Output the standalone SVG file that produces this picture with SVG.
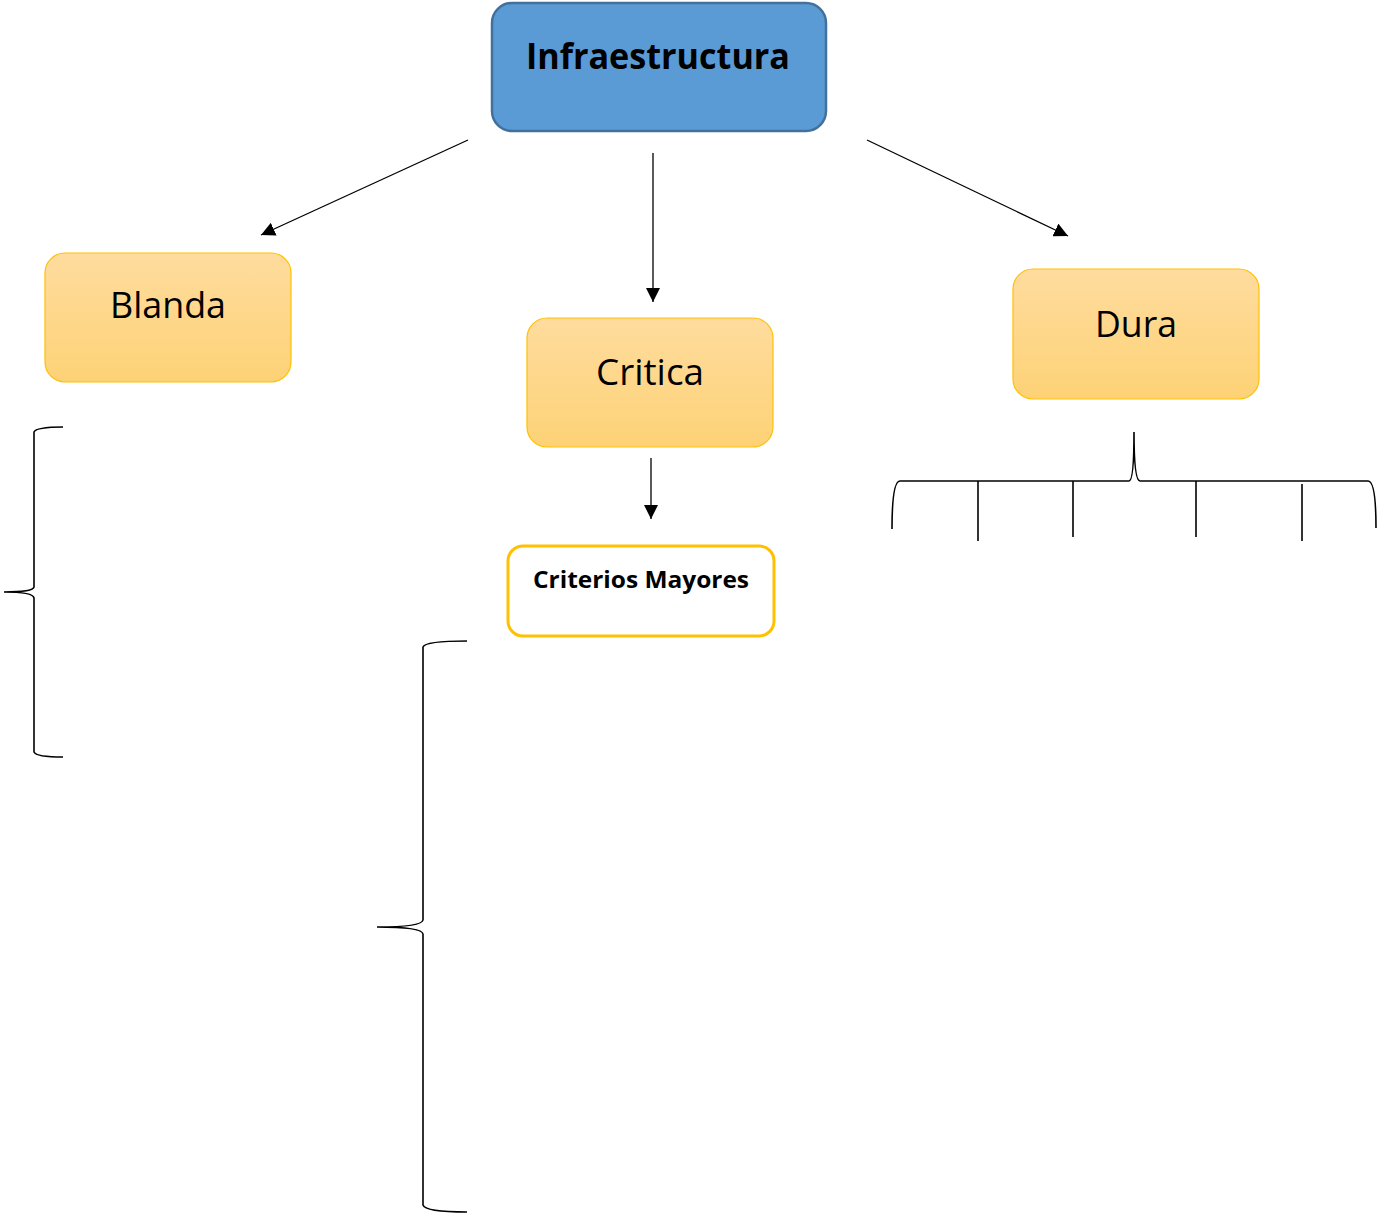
<svg xmlns="http://www.w3.org/2000/svg" width="1377" height="1214" viewBox="0 0 1377 1214">
<style>
.lbl{font-family:"Open Sans","Noto Sans","Liberation Sans",sans-serif;fill:#000;text-anchor:middle}
.conn{stroke:#000;stroke-width:1.3;fill:none}
.brace{stroke:#000;stroke-width:1.6;fill:none}
.orange{fill:url(#og);stroke:#FFC000;stroke-width:1.2}
</style>
<defs>
<linearGradient id="og" x1="0" y1="0" x2="0" y2="1">
<stop offset="0" stop-color="#FFDC9E"/>
<stop offset="1" stop-color="#FDD276"/>
</linearGradient>
<marker id="ah" viewBox="0 0 10 10" refX="10" refY="5" markerWidth="14" markerHeight="14" markerUnits="userSpaceOnUse" orient="auto">
<path d="M0,0 L10,5 L0,10 Z" fill="#000"/>
</marker>
</defs>
<g id="n-infra">
<rect x="492" y="3" width="334" height="128" rx="20" fill="#5B9BD5" stroke="#41719C" stroke-width="2.5"/>
<text class="lbl" x="658" y="69" font-size="35" font-weight="bold" textLength="264" lengthAdjust="spacingAndGlyphs">Infraestructura</text>
</g>
<g id="n-blanda">
<rect class="orange" x="45" y="253" width="246" height="129" rx="20"/>
<text class="lbl" x="168" y="318" font-size="36" textLength="116" lengthAdjust="spacingAndGlyphs">Blanda</text>
</g>
<g id="n-critica">
<rect class="orange" x="527" y="318" width="246" height="129" rx="20"/>
<text class="lbl" x="650" y="385" font-size="36" textLength="108" lengthAdjust="spacingAndGlyphs">Critica</text>
</g>
<g id="n-dura">
<rect class="orange" x="1013" y="269" width="246" height="130" rx="20"/>
<text class="lbl" x="1136" y="337" font-size="36" textLength="82" lengthAdjust="spacingAndGlyphs">Dura</text>
</g>
<g id="n-criterios">
<rect x="508" y="546" width="266" height="90" rx="15" fill="#fff" stroke="#FFC000" stroke-width="3"/>
<text class="lbl" x="641" y="588" font-size="23" font-weight="bold" textLength="216" lengthAdjust="spacingAndGlyphs">Criterios Mayores</text>
</g>
<g id="connectors">
<line class="conn" x1="468" y1="140" x2="261" y2="235" marker-end="url(#ah)"/>
<line class="conn" x1="653" y1="153" x2="653" y2="302" marker-end="url(#ah)"/>
<line class="conn" x1="867" y1="140" x2="1068" y2="236" marker-end="url(#ah)"/>
<line class="conn" x1="651" y1="458" x2="651" y2="519" marker-end="url(#ah)"/>
</g>
<g id="braces">
<path class="brace" d="M63,427 Q36,427 34,432 L34,587 Q33,592 4,592 Q33,592 34,598 L34,752 Q36,757 63,757"/>
<path class="brace" d="M467,641 Q425,641 423,647 L423,920 Q422,927 377,927 Q422,927 423,934 L423,1205 Q425,1212 467,1212"/>
<path class="brace" d="M892,529 Q892,481 900,481 L1129,481 Q1134,481 1134,432 Q1134,481 1140,481 L1368,481 Q1376,481 1376,528"/>
<line class="brace" x1="978" y1="481" x2="978" y2="541"/>
<line class="brace" x1="1073" y1="481" x2="1073" y2="537"/>
<line class="brace" x1="1196" y1="481" x2="1196" y2="537"/>
<line class="brace" x1="1302" y1="484" x2="1302" y2="541"/>
</g>
</svg>
